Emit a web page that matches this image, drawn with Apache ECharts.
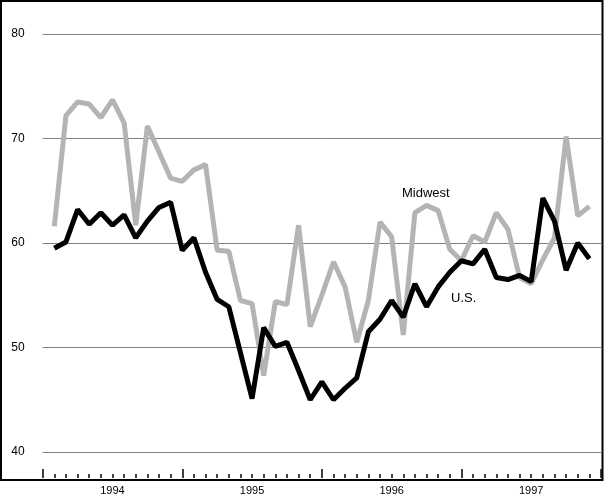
<!DOCTYPE html>
<html>
<head>
<meta charset="utf-8">
<script src="https://cdn.jsdelivr.net/npm/echarts@6/dist/echarts.min.js"></script>
<style>
  html, body { margin: 0; padding: 0; background: #fff; }
  #chart { width: 604px; height: 496px; }
</style>
</head>
<body>
<div id="chart"></div>
<script>
// month slots: 0 = start of 1994, 48 = end of 1997; points sit on slots 1..47
const years = ['1994', '1995', '1996', '1997'];
const yTicks = [40, 50, 60, 70, 80];

const usValues = [
    59.5, 60.1, 63.2, 61.8, 62.9, 61.7, 62.7, 60.5, 62.1, 63.4, 63.9, 59.3,
    60.5, 57.2, 54.6, 53.9, 49.5, 45.1, 51.9, 50.1, 50.5, 47.8, 45.0, 46.7,
    45.0, 46.1, 47.1, 51.5, 52.7, 54.5, 52.9, 56.1, 53.9, 55.8, 57.2, 58.3,
    58.0, 59.4, 56.7, 56.5, 56.9, 56.3, 64.3, 62.1, 57.4, 60.0, 58.5
];
const midwestValues = [
    61.6, 72.2, 73.5, 73.3, 72.0, 73.7, 71.5, 61.7, 71.2, 68.7, 66.2, 65.9,
    67.0, 67.5, 59.3, 59.2, 54.5, 54.2, 47.3, 54.4, 54.1, 61.7, 52.0, 55.0,
    58.2, 55.8, 50.5, 54.5, 62.0, 60.6, 51.2, 62.9, 63.6, 63.1, 59.4, 58.3,
    60.7, 60.1, 62.9, 61.3, 56.7, 56.1, 58.4, 60.5, 70.2, 62.6, 63.5
];

const toPoints = (vals) => vals.map((v, i) => [i + 1, v]);

const chart = echarts.init(document.getElementById('chart'), null, { renderer: 'canvas' });
const font = 'Arial, "Liberation Sans", sans-serif';

const option = {
    animation: false,
    backgroundColor: '#fff',
    grid: { left: 42.7, right: 1, top: 34, height: 420 },
    xAxis: [
        {
            type: 'value',
            min: 0,
            max: 48,
            interval: 1,
            offset: 26,
            axisLine: { show: false },
            splitLine: { show: false },
            axisTick: { inside: true, length: 4, lineStyle: { color: '#000', width: 1.5 } },
            axisLabel: {
                margin: 7,
                color: '#000',
                fontSize: 11,
                fontFamily: font,
                showMinLabel: true,
                showMaxLabel: true,
                formatter: (v) => (v % 12 === 6 ? years[(v - 6) / 12] : '')
            }
        },
        {
            type: 'value',
            position: 'bottom',
            min: 0,
            max: 48,
            interval: 12,
            offset: 26,
            axisLine: { show: false },
            splitLine: { show: false },
            axisTick: { inside: true, length: 9, lineStyle: { color: '#000', width: 1.5 } },
            axisLabel: { show: false }
        }
    ],
    yAxis: {
        type: 'value',
        min: yTicks[0],
        max: yTicks[yTicks.length - 1],
        interval: 10,
        axisLine: { show: false },
        axisTick: { show: false },
        axisLabel: { margin: 18, color: '#000', fontSize: 12, fontFamily: font },
        splitLine: { lineStyle: { color: '#808080', width: 1 } }
    },
    series: [
        {
            name: 'Midwest',
            type: 'line',
            data: toPoints(midwestValues),
            symbol: 'none',
            lineStyle: { color: '#b4b4b4', width: 5, join: 'bevel' },
            z: 2
        },
        {
            name: 'U.S.',
            type: 'line',
            data: toPoints(usValues),
            symbol: 'none',
            lineStyle: { color: '#000', width: 5, join: 'bevel' },
            z: 3
        }
    ],
    graphic: [
        {
            type: 'rect',
            shape: { x: 1, y: 1, width: 601.5, height: 479 },
            style: { fill: null, stroke: '#000', lineWidth: 2 },
            silent: true,
            z: 10
        },
        {
            type: 'text',
            left: 402,
            top: 187,
            style: { text: 'Midwest', fill: '#000', font: '13px ' + font }
        },
        {
            type: 'text',
            left: 451,
            top: 292,
            style: { text: 'U.S.', fill: '#000', font: '13px ' + font }
        }
    ]
};

chart.setOption(option);
</script>
</body>
</html>
